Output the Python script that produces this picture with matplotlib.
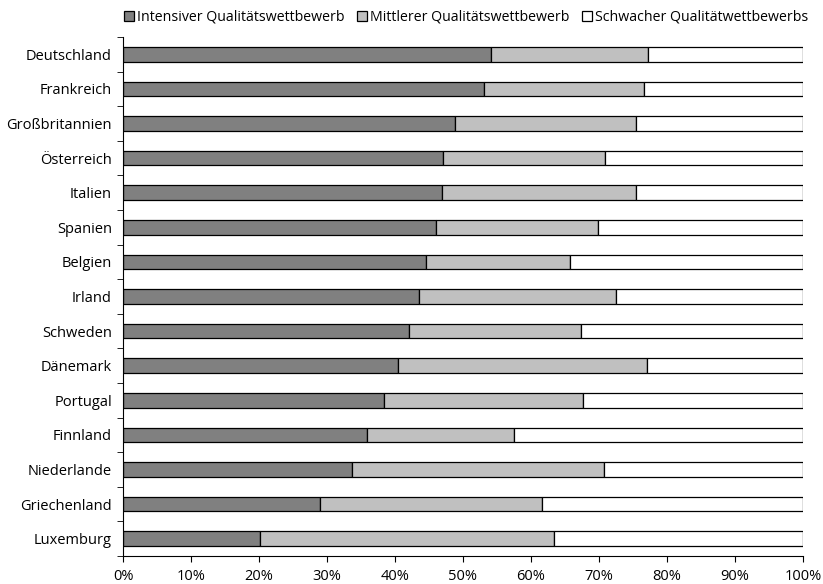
import matplotlib
matplotlib.use("Agg")
import matplotlib.pyplot as plt
import numpy as np

countries = ["Deutschland", "Frankreich", "Großbritannien", "Österreich", "Italien",
             "Spanien", "Belgien", "Irland", "Schweden", "Dänemark", "Portugal",
             "Finnland", "Niederlande", "Griechenland", "Luxemburg"]
intensiv = [54.2, 53.1, 48.9, 47.0, 46.9, 46.1, 44.5, 43.5, 42.1, 40.5, 38.4, 35.9, 33.7, 28.9, 20.2]
mittel = [23.0, 23.6, 26.6, 23.9, 28.6, 23.8, 21.3, 29.0, 25.2, 36.6, 29.2, 21.6, 37.0, 32.7, 43.2]
schwach = [100 - a - b for a, b in zip(intensiv, mittel)]

labels = ["Intensiver Qualitätswettbewerb", "Mittlerer Qualitätswettbewerb",
          "Schwacher Qualitätwettbewerbs"]
colors = ["#808080", "#c0c0c0", "#ffffff"]

plt.rcParams['font.family'] = ['Open Sans', 'DejaVu Sans']

fig = plt.figure(figsize=(8.23, 5.84), dpi=100)
ax = fig.add_axes([0.1495, 0.048, 0.826, 0.8886])

y = np.arange(len(countries))
left = np.zeros(len(countries))
for vals, lab, col in zip([intensiv, mittel, schwach], labels, colors):
    ax.barh(y, vals, left=left, height=0.42, color=col, edgecolor="black",
            linewidth=0.9, label=lab)
    left += np.array(vals)

ax.set_xlim(0, 100)
ax.set_ylim(len(countries) - 0.5, -0.5)
ax.set_xticks(np.arange(0, 101, 10))
ax.set_xticklabels([f"{v}%" for v in range(0, 101, 10)], fontsize=10.5)
ax.set_yticks(y)
ax.set_yticklabels(countries, fontsize=10.5)
ax.set_yticks(np.arange(-0.5, len(countries), 1), minor=True)
ax.tick_params(axis="y", which="major", length=0, pad=8)
ax.tick_params(axis="y", which="minor", length=4, direction="out")
ax.tick_params(axis="x", length=4.5, direction="out", pad=5)
ax.spines["top"].set_visible(False)
ax.spines["right"].set_visible(False)

ax.legend(loc="center", bbox_to_anchor=(0.505, 1.0385), ncol=3, frameon=False,
          fontsize=10.2, handlelength=0.7, handleheight=0.7, handletextpad=0.2,
          columnspacing=0.9, borderaxespad=0)

fig.savefig("out.png", dpi=100)
